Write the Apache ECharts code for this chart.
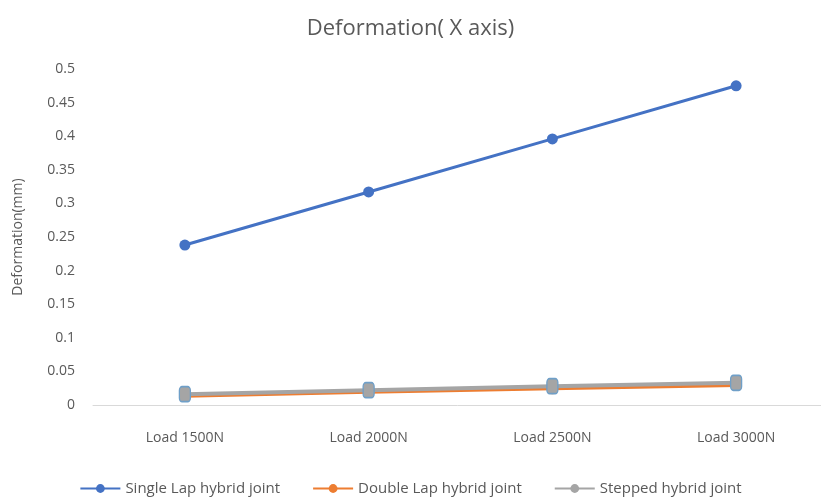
<!DOCTYPE html>
<html>
<head>
<meta charset="utf-8">
<script src="https://cdn.jsdelivr.net/npm/echarts@6/dist/echarts.min.js"></script>
<style>
html,body{margin:0;padding:0;background:#fff;}
#chart{width:821px;height:501px;}
</style>
</head>
<body>
<div id="chart"></div>
<script>
// load steps on the x axis
const loads = ['Load 1500N', 'Load 2000N', 'Load 2500N', 'Load 3000N'];
// deformation in mm
const singleLap = [0.238, 0.317, 0.396, 0.475];
const doubleLap = [0.013, 0.019, 0.024, 0.029];
const stepped = [0.016, 0.022, 0.028, 0.033];

const font = 'Open Sans';
const grey = '#595959';

let myecharts = echarts.init(document.getElementById('chart'));
let option = {
  animation: false,
  title: {
    text: 'Deformation( X axis)',
    left: 'center',
    top: 13,
    textStyle: {fontFamily: font, fontSize: 22, fontWeight: 'normal', color: grey}
  },
  legend: {
    bottom: 0,
    left: 'center',
    itemGap: 32,
    itemWidth: 40,
    itemHeight: 11,
    textStyle: {fontFamily: font, fontSize: 15, color: grey},
    data: ['Single Lap hybrid joint', 'Double Lap hybrid joint', 'Stepped hybrid joint']
  },
  grid: {
    left: 93,
    top: 69,
    width: 735,
    height: 336,
    outerBoundsMode: 'none'
  },
  xAxis: {
    type: 'category',
    data: loads,
    axisLine: {lineStyle: {color: '#d9d9d9'}},
    axisTick: {show: false},
    axisLabel: {fontFamily: font, fontSize: 14, color: grey, margin: 26}
  },
  yAxis: {
    type: 'value',
    min: 0,
    max: 0.5,
    interval: 0.05,
    name: 'Deformation(mm)',
    nameLocation: 'middle',
    nameGap: 68,
    nameTextStyle: {fontFamily: font, fontSize: 14, color: grey},
    splitLine: {show: false},
    axisLine: {show: false},
    axisTick: {show: false},
    axisLabel: {
      fontFamily: font, fontSize: 14, color: grey, margin: 18,
      formatter: v => String(+v.toFixed(2))
    }
  },
  series: [
    {
      name: 'Single Lap hybrid joint',
      type: 'line',
      data: singleLap,
      symbol: 'circle',
      symbolSize: 11,
      color: '#4472C4',
      lineStyle: {width: 3}
    },
    {
      name: 'Double Lap hybrid joint',
      type: 'line',
      data: doubleLap,
      symbol: 'circle',
      symbolSize: 11,
      color: '#ED7D31',
      lineStyle: {width: 3}
    },
    {
      name: 'Stepped hybrid joint',
      type: 'line',
      // points are shown selected in the original, with handles round them
      data: stepped.map(v => ({
        value: v,
        symbol: 'roundRect',
        symbolSize: [11, 15],
        itemStyle: {borderColor: '#6f9fc8', borderWidth: 1.5}
      })),
      symbol: 'circle',
      symbolSize: 11,
      color: '#A5A5A5',
      lineStyle: {width: 4}
    }
  ]
};
myecharts.setOption(option);
</script>
</body>
</html>
